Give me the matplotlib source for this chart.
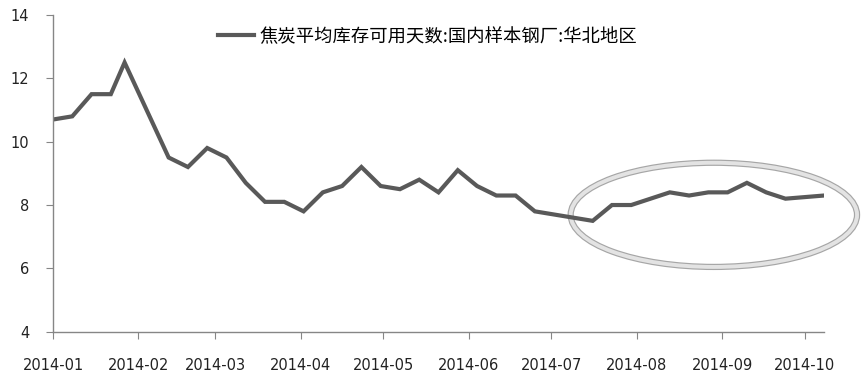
import numpy as np
import pandas as pd
import matplotlib
matplotlib.use("Agg")
import matplotlib.pyplot as plt
import matplotlib.dates as mdates
from matplotlib.patches import Ellipse

plt.rcParams['font.family'] = ['Noto Sans CJK SC', 'DejaVu Sans']

# 周度数据
dates = pd.to_datetime([
    "2014-01-01", "2014-01-08", "2014-01-15", "2014-01-22", "2014-01-27",
    "2014-02-12", "2014-02-19", "2014-02-26",
    "2014-03-05", "2014-03-12", "2014-03-19", "2014-03-26",
    "2014-04-02", "2014-04-09", "2014-04-16", "2014-04-23", "2014-04-30",
    "2014-05-07", "2014-05-14", "2014-05-21", "2014-05-28",
    "2014-06-04", "2014-06-11", "2014-06-18", "2014-06-25",
    "2014-07-02", "2014-07-09", "2014-07-16", "2014-07-23", "2014-07-30",
    "2014-08-06", "2014-08-13", "2014-08-20", "2014-08-27",
    "2014-09-03", "2014-09-10", "2014-09-17", "2014-09-24",
    "2014-10-01", "2014-10-08",
])
days = [
    10.7, 10.8, 11.5, 11.5, 12.5,
    9.5, 9.2, 9.8,
    9.5, 8.7, 8.1, 8.1,
    7.8, 8.4, 8.6, 9.2, 8.6,
    8.5, 8.8, 8.4, 9.1,
    8.6, 8.3, 8.3, 7.8,
    7.7, 7.6, 7.5, 8.0, 8.0,
    8.2, 8.4, 8.3, 8.4,
    8.4, 8.7, 8.4, 8.2,
    8.25, 8.3,
]
series_name = "焦炭平均库存可用天数:国内样本钢厂:华北地区"
month_ticks = pd.date_range("2014-01-01", "2014-10-01", freq="MS")

fig = plt.figure(figsize=(8.62, 3.83), dpi=100)
ax = fig.add_axes([53 / 862, 1 - 331.7 / 383, (824 - 53) / 862, (331.7 - 15) / 383])

ax.plot(dates, days, color="#595959", lw=3, solid_joinstyle="miter", label=series_name)

# 高亮圈
cx = mdates.date2num(pd.Timestamp("2014-08-29"))
ell_out = Ellipse((cx, 7.69), 104, 3.29, fill=False, ec="#a6a6a6", lw=4.5, clip_on=False)
ell_in = Ellipse((cx, 7.69), 104, 3.29, fill=False, ec="#e3e3e3", lw=2.8, clip_on=False)
ax.add_patch(ell_out)
ax.add_patch(ell_in)

ax.set_xlim(dates[0], dates[-1])
ax.set_ylim(4, 14)
ax.set_yticks([4, 6, 8, 10, 12, 14])
ax.set_xticks(month_ticks)
ax.xaxis.set_major_formatter(mdates.DateFormatter("%Y-%m"))

for s in ["top", "right"]:
    ax.spines[s].set_visible(False)
for s in ["left", "bottom"]:
    ax.spines[s].set_color("#868686")
    ax.spines[s].set_linewidth(1)

ax.tick_params(axis="y", direction="out", length=5, color="#868686", pad=12,
               labelsize=10.5, labelcolor="#222222", labelfontfamily="DejaVu Sans")
ax.tick_params(axis="x", direction="out", length=5, color="#868686", pad=14,
               labelsize=10.5, labelcolor="#222222", labelfontfamily="DejaVu Sans")

ax.legend(loc="upper left", bbox_to_anchor=(0.197, 1.0), frameon=False,
          handlelength=2.0, handletextpad=0.27, fontsize=13.2,
          borderaxespad=0.3)

fig.savefig("out.png", dpi=100)
